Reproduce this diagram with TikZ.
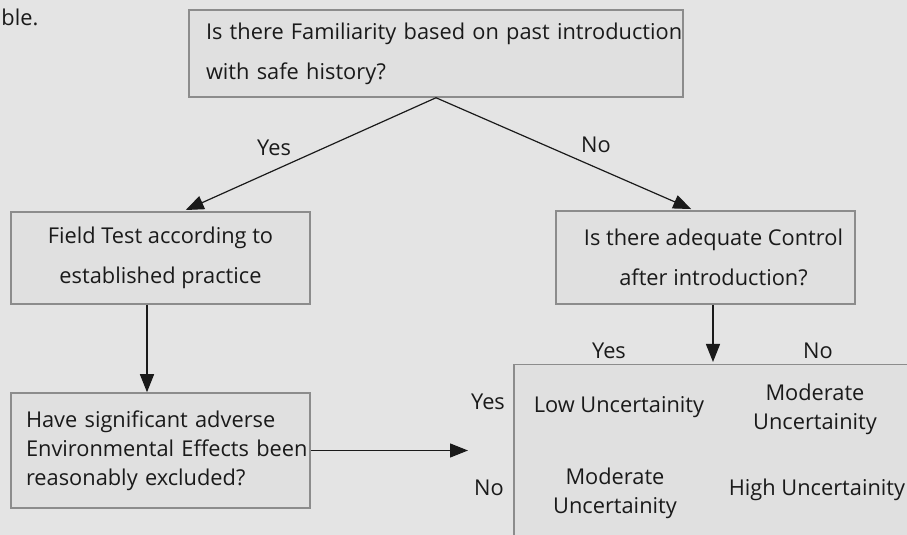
\documentclass[tikz,border=0pt]{standalone}
\usepackage{fontspec}
\setmainfont{Open Sans}
\usetikzlibrary{arrows.meta,positioning}
\definecolor{BgGray}{RGB}{228,228,228}
\definecolor{BoxGray}{RGB}{224,224,224}
\definecolor{EdgeGray}{RGB}{140,140,140}
\definecolor{Ink}{RGB}{26,26,26}

\begin{document}
\begin{tikzpicture}[x=0.5pt,y=-0.5pt,
    box/.style={draw=EdgeGray,fill=BoxGray,line width=0.75pt,text=Ink,inner sep=0pt},
    wide/.style={font=\fontsize{10.9}{20}\selectfont},
    tight/.style={text=Ink,inner sep=0pt,font=\fontsize{10.9}{14.5}\selectfont},
    lbl/.style={text=Ink,inner sep=0pt,font=\fontsize{10.9}{12}\selectfont},
    arr/.style={draw=Ink,line width=0.6pt,-{Triangle[length=9pt,width=7pt]}}]
  \fill[BgGray] (0,0) rectangle (907,535);
  \clip (0,0) rectangle (907,535);

  \node[lbl,anchor=base west] (cut) at (1,26) {ble.};

  % question boxes
  \node[box,wide,minimum width=247pt,minimum height=43.5pt,text width=230pt,align=left] (fam) at (436,53.5)
    {\mbox{Is there Familiarity based on past introduction}\\with safe history?};
  \node[box,wide,minimum width=149.5pt,minimum height=46pt,align=center] (field) at (160.5,258)
    {Field Test according to\\established practice};
  \node[box,wide,minimum width=149.5pt,minimum height=46.5pt,align=center] (ctrl) at (705.5,257.5)
    {\hspace*{8pt}Is there adequate Control\\\hspace*{8pt}after introduction?};
  \node[box,tight,minimum width=149.5pt,minimum height=57.5pt,text width=134.5pt,align=left] (excl) at (160.5,450.5)
    {Have significant adverse\\\mbox{Environmental Effects been}\\reasonably excluded?};

  % outcome matrix
  \node[box,minimum width=215pt,minimum height=100pt,anchor=north west] (unc) at (513,364) {};
  \node[lbl,anchor=base] (colyes) at (609,358) {Yes};
  \node[lbl,anchor=base] (colno) at (818,358) {No};
  \node[lbl,anchor=base] (rowyes) at (488,410) {Yes};
  \node[lbl,anchor=base] (rowno) at (489,495) {No};
  \node[lbl,anchor=base] (low) at (619,413) {Low Uncertainity};
  \node[tight,align=center] (modA) at (815,409) {Moderate\\Uncertainity};
  \node[tight,align=center] (modB) at (615,493) {Moderate\\Uncertainity};
  \node[lbl,anchor=base] (high) at (817,495) {High Uncertainity};

  % connectors
  \coordinate (tip) at (468,450.5);
  \draw[arr,shorten >=1.5pt] (fam.south) -- node[lbl,pos=0.64,above=7pt] (yesA) {Yes} ([xshift=11.25pt]field.north);
  \draw[arr,shorten >=1.5pt] (fam.south) -- node[lbl,pos=0.62,above=7pt] (noA) {No} ([xshift=-5.75pt]ctrl.north);
  \draw[arr] ([xshift=-6.75pt]field.south) -- ([xshift=-6.75pt]excl.north);
  \draw[arr] (excl.east) -- (tip);
  \draw[arr,shorten >=1pt] ([xshift=3.75pt]ctrl.south) -- ([xshift=3.75pt]ctrl.south |- unc.north);
\end{tikzpicture}
\end{document}
